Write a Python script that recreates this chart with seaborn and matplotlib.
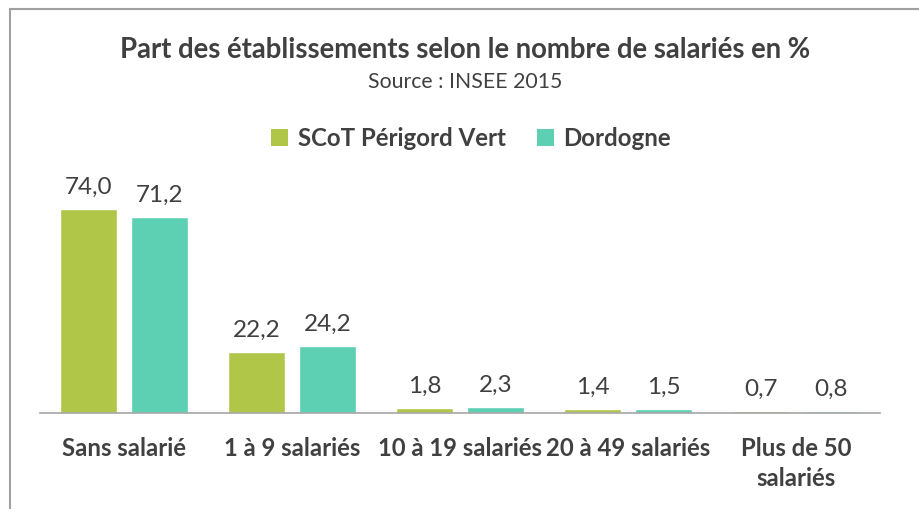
import matplotlib
matplotlib.use("Agg")
import matplotlib.pyplot as plt
import seaborn as sns
import pandas as pd
from matplotlib.lines import Line2D
from matplotlib.patches import Patch

categories = ["Sans salarié", "1 à 9 salariés", "10 à 19 salariés", "20 à 49 salariés", "Plus de 50\nsalariés"]
series_names = ["SCoT Périgord Vert", "Dordogne"]
scot_values = [74.0, 22.2, 1.8, 1.4, 0.7]
dordogne_values = [71.2, 24.2, 2.3, 1.5, 0.8]

df = pd.DataFrame({
    "cat": categories * 2,
    "serie": [series_names[0]] * 5 + [series_names[1]] * 5,
    "val": scot_values + dordogne_values,
})

sns.set_theme(style="white")
plt.rcParams['font.family'] = ['Lato', 'DejaVu Sans']
txt = "#404040"
colors = ["#B0C648", "#5DD0B3"]

fig = plt.figure(figsize=(9.19, 5.09), dpi=100)
ax = fig.add_axes([40/919, 1-413/509, 840/919, 220.6/509])
sns.barplot(data=df, x="cat", y="val", hue="serie", palette=colors,
            width=0.845, gap=0.195, ax=ax, legend=False, saturation=1)
ax.set_xlim(-0.5, 4.5)
ax.set_ylim(0, 80)
for cont in ax.containers:
    ax.bar_label(cont, labels=[f"{v:.1f}".replace(".", ",") for v in cont.datavalues],
                 padding=8, fontsize=17.5, color=txt)
ax.set_xlabel("")
ax.set_ylabel("")
ax.set_yticks([])
for s in ["top", "right", "left"]:
    ax.spines[s].set_visible(False)
ax.spines["bottom"].set_color("#A6A6A6")
ax.spines["bottom"].set_linewidth(1.2)
ax.tick_params(axis="x", length=0, pad=17)
for lab in ax.get_xticklabels():
    lab.set_fontsize(17.2)
    lab.set_fontweight("bold")
    lab.set_color(txt)
    lab.set_verticalalignment("top")
    lab.set_linespacing(1.4)

fig.text(465/919, 1-50/509, "Part des établissements selon le nombre de salariés en %",
         ha="center", va="center", fontsize=19.8, fontweight="bold", color=txt)
fig.text(465/919, 1-82/509, "Source : INSEE 2015", ha="center", va="center",
         fontsize=15.3, color=txt)

handles = [Patch(facecolor=c, edgecolor="none") for c in colors]
fig.legend(handles, series_names, loc="center", bbox_to_anchor=(471/919, 1-138/509),
           ncol=2, frameon=False, prop={"size": 17.3, "weight": "bold"},
           handlelength=0.7, handleheight=0.7, handletextpad=0.4, columnspacing=1.3,
           labelcolor=txt)

fig.add_artist(Line2D([10/919, 10/919], [0, 1-9/509], transform=fig.transFigure,
                      color="#A0A0A0", lw=1.5))
fig.add_artist(Line2D([10/919, 1], [1-9/509, 1-9/509], transform=fig.transFigure,
                      color="#A0A0A0", lw=1.5))

fig.savefig("out.png", dpi=100, facecolor="white")
